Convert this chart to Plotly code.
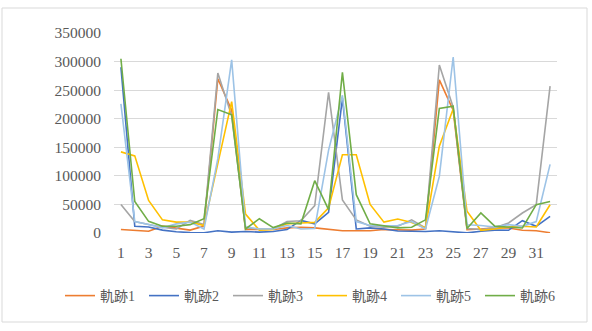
import plotly.graph_objects as go

x = list(range(1, 33))
names = ["軌跡1", "軌跡2", "軌跡3", "軌跡4", "軌跡5", "軌跡6"]

s1 = [6000, 5000, 3000, 12000, 8000, 5000, 12000, 270000, 215000, 6000,
      6000, 6000, 9000, 10000, 9000, 7000, 4000, 4000, 4000, 6000,
      5000, 5000, 7000, 268000, 215000, 6000, 7000, 9000, 8700, 4700,
      4000, 500]
s2 = [290000, 11700, 10500, 5000, 2300, 600, 500, 4000, 1500, 2500,
      1500, 2500, 6000, 22000, 16000, 36000, 236000, 7000, 9000, 7000,
      3500, 3500, 2500, 4000, 2500, 200, 3000, 5000, 4700, 21500,
      11700, 29000]
s3 = [50000, 20000, 15000, 10000, 7000, 22000, 15000, 280000, 205000, 9000,
      7000, 7000, 20000, 21500, 48000, 246000, 58000, 23000, 12000, 10000,
      12000, 23000, 9000, 294000, 220000, 8000, 6000, 9000, 17500, 35000,
      49500, 257000]
s4 = [142000, 135000, 57000, 23000, 19000, 19000, 13000, 120000, 230000, 33000,
      5000, 6000, 16000, 17500, 18600, 44000, 137000, 137000, 50000, 19000,
      24500, 18500, 9000, 152000, 217000, 38000, 4700, 7000, 10500, 11700,
      10500, 49500]
s5 = [226000, 20000, 15000, 9000, 16000, 19000, 7000, 130000, 303000, 11000,
      7000, 7000, 13000, 7000, 8000, 145000, 241000, 20000, 13000, 12000,
      13000, 20000, 7000, 99000, 308000, 14500, 13000, 10500, 14600, 11700,
      20000, 120000]
s6 = [305000, 55000, 20400, 11700, 11700, 14600, 25000, 216000, 207000, 7000,
      25000, 9500, 17500, 16000, 91500, 41000, 281000, 67000, 16000, 13000,
      9000, 10000, 23000, 218000, 222000, 8000, 35000, 12000, 10500, 8700,
      49500, 55000]

series = [s1, s2, s3, s4, s5, s6]
colors = ["#ED7D31", "#4472C4", "#A5A5A5", "#FFC000", "#9DC3E6", "#70AD47"]

tickvals_x = list(range(1, 33, 2))
tickvals_y = [0, 50000, 100000, 150000, 200000, 250000, 300000, 350000]

fig = go.Figure()
for n, s, c in zip(names, series, colors):
    fig.add_trace(go.Scatter(x=x, y=s, name=n, mode="lines",
                             line=dict(color=c, width=1.6)))

font_fam = "Liberation Serif, Noto Sans CJK JP, serif"
L, R, T, B = 114, 35, 33, 98
W, H = 592, 331
pw, ph = W - L - R, H - T - B

def px(v):
    return (v - L) / pw

def py(v):
    return (H - B - v) / ph

fig.update_layout(
    width=W, height=H,
    margin=dict(l=L, r=R, t=T, b=B),
    paper_bgcolor="white", plot_bgcolor="white",
    font=dict(family=font_fam, size=15, color="#595959"),
    xaxis=dict(range=[0.5, 32.5], tickvals=tickvals_x, ticks="",
               showgrid=False, zeroline=False, showline=False,
               ticklabelstandoff=8, tickfont=dict(size=15.5)),
    yaxis=dict(range=[0, 350000], tickvals=tickvals_y, ticks="",
               tickformat="d", showgrid=True, gridcolor="#D9D9D9",
               gridwidth=1, zeroline=False, showline=False,
               ticklabelstandoff=12, tickfont=dict(size=15.5)),
    legend=dict(orientation="h", x=px(60), xanchor="left",
                y=py(296), yanchor="middle",
                font=dict(size=14, color="#595959"),
                entrywidth=39, entrywidthmode="pixels",
                bgcolor="rgba(0,0,0,0)"),
    shapes=[dict(type="rect", xref="paper", yref="paper",
                 x0=px(2), x1=px(587), y0=py(322), y1=py(8),
                 line=dict(color="#D9D9D9", width=1), layer="below")],
)

fig.write_html("out.html")
